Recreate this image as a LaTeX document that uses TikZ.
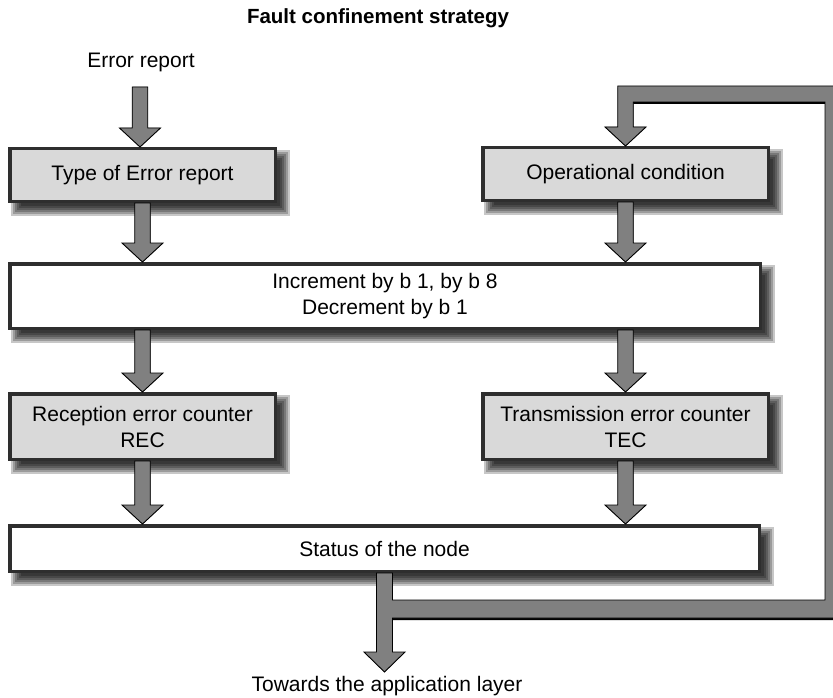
\documentclass[tikz,border=0pt]{standalone}
\usepackage{fontspec}
\setmainfont{Liberation Sans}
\usetikzlibrary{calc,backgrounds}
\definecolor{boxgray}{HTML}{D9D9D9}
\definecolor{bordergray}{HTML}{2E2E2E}
\definecolor{arrgray}{HTML}{808080}
\tikzset{
 box/.style={draw=bordergray, line width=3.5pt, rectangle, align=center,
   font=\fontsize{21}{26}\selectfont, inner sep=0pt},
 graybox/.style={box, fill=boxgray},
 whitebox/.style={box, fill=white},
 arrbody/.style={fill=arrgray, draw=black, line width=0.9pt, line join=miter},
 arrshadow/.style={fill=black},
 shadowlayer/.style={fill=black, opacity=0.22},
 lbl/.style={font=\fontsize{21}{25}\selectfont, inner sep=0pt},
}
\newcommand\boxshadow[1]{%
 \foreach \k in {-5,-3,-1,1,3,5}{
  \fill[shadowlayer] ([xshift={8pt+\k*1pt}, yshift={-8pt-\k*1pt}]#1.north west)
     rectangle ([xshift={8pt-\k*1pt}, yshift={-8pt+\k*1pt}]#1.south east);
 }}
\newcommand\fatarrow[2]{%
 \path[arrshadow,xshift=3.5pt,yshift=-2pt] let \p1=#1, \p2=#2 in
   (\x1-7.75pt,\y1) -- (\x1-7.75pt,\y2+19pt) -- (\x1-20.5pt,\y2+19pt) -- (\x1,\y2)
   -- (\x1+20.5pt,\y2+19pt) -- (\x1+7.75pt,\y2+19pt) -- (\x1+7.75pt,\y1) -- cycle;
 \path[arrbody] let \p1=#1, \p2=#2 in
   (\x1-7.75pt,\y1) -- (\x1-7.75pt,\y2+19pt) -- (\x1-20.5pt,\y2+19pt) -- (\x1,\y2)
   -- (\x1+20.5pt,\y2+19pt) -- (\x1+7.75pt,\y2+19pt) -- (\x1+7.75pt,\y1) -- cycle;
}
\begin{document}
\begin{tikzpicture}[x=1pt,y=-1pt]
\useasboundingbox (0,0) rectangle (833,698);

\node[lbl, font=\bfseries\fontsize{20.5}{25}\selectfont] (title) at (378,18) {Fault confinement strategy};
\node[lbl] (erep) at (141,62) {Error report};
\node[lbl] (app) at (387,686) {Towards the application layer};
\coordinate (in) at (140,87);
\coordinate (out) at (385,672);

\node[graybox, minimum width=265.5pt, minimum height=52.5pt] (ter) at (142.5,175) {Type of Error report};
\node[graybox, minimum width=285.5pt, minimum height=52.5pt] (oc) at (625.5,174) {Operational condition};
\node[whitebox, minimum width=750.5pt, minimum height=64.5pt] (inc) at (385,296) {Increment by b 1, by b 8\\Decrement by b 1};
\node[graybox, minimum width=265.5pt, minimum height=65.5pt] (rec) at (142.5,426.5) {Reception error counter\\REC};
\node[graybox, minimum width=285.5pt, minimum height=65.5pt] (tec) at (625.5,426.5) {Transmission error counter\\TEC};
\node[whitebox, minimum width=749.5pt, minimum height=45.5pt] (status) at (384.5,548.5) {Status of the node};

\begin{pgfonlayer}{background}
 \fill[white] (0,0) rectangle (833,698);
 \boxshadow{ter}
 \boxshadow{oc}
 \boxshadow{inc}
 \boxshadow{rec}
 \boxshadow{tec}
 \boxshadow{status}
\end{pgfonlayer}

% vertical arrows
\fatarrow{(in)}{(in |- ter.north)}
\fatarrow{(ter.south)}{(ter.south |- inc.north)}
\fatarrow{(oc.south)}{(oc.south |- inc.north)}
\fatarrow{(rec.north |- inc.south)}{(rec.north)}
\fatarrow{(tec.north |- inc.south)}{(tec.north)}
\fatarrow{(rec.south)}{(rec.south |- status.north)}
\fatarrow{(tec.south)}{(tec.south |- status.north)}

% feedback loop
\begin{scope}
\clip (0,0) rectangle (833,698);
\foreach \sty/\dx/\dy in {arrshadow/3.5/-2, arrbody/0/0}{
 \path[\sty, xshift=\dx pt, yshift=\dy pt] let \p1=(status.south), \p2=(oc.north), \p3=(out) in
   (\x1-8pt,\y1) -- (\x1-8pt,\y3+20pt) -- (\x1-20.5pt,\y3+20pt) -- (\x1,\y3)
   -- (\x1+20.5pt,\y3+20pt) -- (\x1+8pt,\y3+20pt) -- (\x1+8pt,-618pt)
   -- (845pt,-618pt) -- (845pt,-86pt) -- (\x2-7.75pt,-86pt)
   -- (\x2-7.75pt,\y2+19pt) -- (\x2-20.5pt,\y2+19pt) -- (\x2,\y2)
   -- (\x2+20.5pt,\y2+19pt) -- (\x2+7.75pt,\y2+19pt) -- (\x2+7.75pt,-102pt)
   -- (825pt,-102pt) -- (825pt,-600pt) -- (\x1+8pt,-600pt) -- (\x1+8pt,\y1) -- cycle;
}
\end{scope}
\end{tikzpicture}
\end{document}
